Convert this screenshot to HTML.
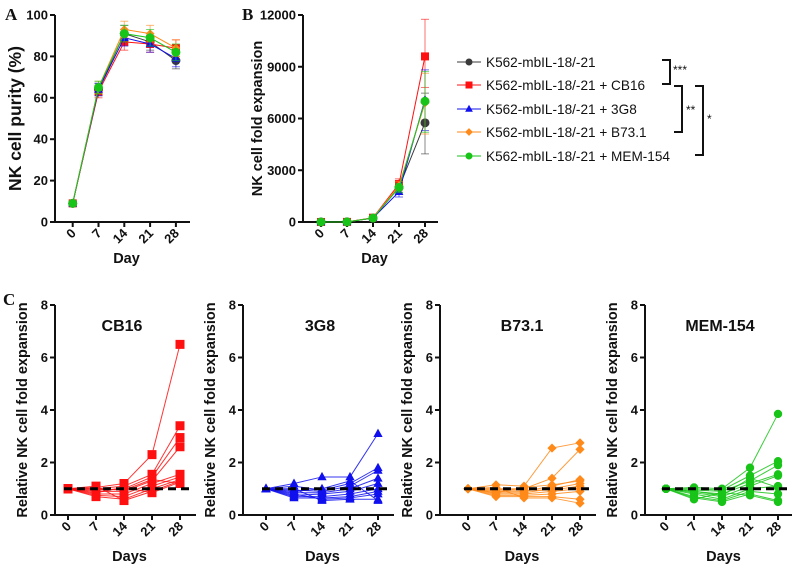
<!DOCTYPE html>
<html><head><meta charset="utf-8">
<style>
html,body{margin:0;padding:0;background:#fff;}
svg{display:block;font-family:"Liberation Sans",Arial,sans-serif;}
.tk{font-weight:bold;font-size:13px;fill:#111;}
.ax{stroke:#111;stroke-width:2;fill:none;}
.lab{font-weight:bold;font-size:14.5px;fill:#111;}
.ttl{font-weight:bold;font-size:16px;fill:#111;}
.pl{font-family:"Liberation Serif",serif;font-weight:bold;font-size:17px;fill:#111;}
.lg{font-size:13.6px;fill:#111;}
</style></head>
<body>
<svg id="fig" width="792" height="569" viewBox="0 0 792 569">
<text class="pl" x="5" y="20">A</text>
<text class="pl" x="242" y="20">B</text>
<text class="pl" x="3" y="305">C</text>
<g id="legend"></g>
</svg>
<script>
// ---- data ----
const days = [0, 7, 14, 21, 28];
const groupNames = ["K562-mbIL-18/-21","K562-mbIL-18/-21 + CB16","K562-mbIL-18/-21 + 3G8","K562-mbIL-18/-21 + B73.1","K562-mbIL-18/-21 + MEM-154"];
const purityCtrl = [9, 64, 91, 87, 78];
const purityCB16 = [9, 63, 87, 86, 84];
const purity3G8  = [9, 64, 89, 86, 79];
const purityB731 = [9, 65, 93, 91, 84];
const purityMEM  = [9, 65, 91, 89, 82];
const purityErr  = [1, 3, 4, 4, 4];
const foldCtrl = [1, 5, 220, 2000, 5750];
const foldCB16 = [1, 5, 250, 2200, 9600];
const fold3G8  = [1, 5, 230, 1750, 7100];
const foldB731 = [1, 5, 240, 2100, 6900];
const foldMEM  = [1, 5, 230, 2000, 7000];
const foldErrHi = [0, 0, 60, 300, 2150];
const foldErrLo = [0, 0, 60, 300, 1800];
const purityTicks = [0, 20, 40, 60, 80, 100];
const foldTicks = [0, 3000, 6000, 9000, 12000];
const relTicks = [0, 2, 4, 6, 8];
// relative fold per donor (days 7,14,21,28; day 0 = 1)
const cb16D7  = [1.05,1.0,0.95,0.9,0.8,0.75,0.7,1.1,0.85,1.0];
const cb16D14 = [1.2,1.1,1.0,0.9,0.8,0.7,0.6,0.55,1.05,0.95];
const cb16D21 = [2.3,1.55,1.45,1.3,1.2,1.1,1.0,0.9,0.85,1.35];
const cb16D28 = [6.5,3.4,2.95,2.6,1.55,1.45,1.35,1.3,1.25,1.2];
const g3D7  = [1.2,1.1,0.95,0.85,0.75,0.7,0.65,0.8,1.0,0.9];
const g3D14 = [1.45,0.95,0.9,0.85,0.8,0.7,0.65,0.6,0.55,1.0];
const g3D21 = [1.45,1.2,1.1,1.0,0.9,0.8,0.7,0.65,0.6,1.3];
const g3D28 = [3.1,1.8,1.7,1.4,1.2,1.0,0.9,0.8,0.6,0.55];
const b7D7  = [1.15,1.0,0.9,0.85,0.8,0.75,0.7,1.05,0.95,0.85];
const b7D14 = [1.1,1.0,0.9,0.85,0.8,0.75,0.7,0.65,0.95,1.05];
const b7D21 = [2.55,1.4,1.1,1.0,0.9,0.8,0.7,0.65,0.95,1.15];
const b7D28 = [2.75,2.5,1.35,1.2,1.0,0.9,0.6,0.45,1.1,1.3];
const memD7  = [1.05,1.0,0.95,0.9,0.85,0.8,0.7,0.65,0.6,0.9];
const memD14 = [1.0,0.95,0.9,0.8,0.7,0.6,0.55,0.5,0.85,0.75];
const memD21 = [1.8,1.5,1.3,1.2,1.1,1.0,0.9,0.8,0.75,1.4];
const memD28 = [3.85,2.05,1.9,1.55,1.5,1.1,0.8,0.55,0.5,1.05];

const NS="http://www.w3.org/2000/svg";
const svg=document.getElementById('fig');
function el(tag,attrs,parent){const e=document.createElementNS(NS,tag);for(const k in attrs)e.setAttribute(k,attrs[k]);(parent||svg).appendChild(e);return e;}
const colors=["#3a3a3a","#ff1010","#1010ee","#ff8a1a","#19c419"];
const shapes=["circle","square","triangle","diamond","circle"];
function marker(g,shape,x,y,s,c){
  let m;
  if(shape==="square")m=el('rect',{x:x-s,y:y-s,width:2*s,height:2*s,fill:c},g);
  else if(shape==="triangle")m=el('polygon',{points:`${x},${y-s*1.2} ${x-s*1.1},${y+s*0.8} ${x+s*1.1},${y+s*0.8}`,fill:c},g);
  else if(shape==="diamond")m=el('polygon',{points:`${x},${y-s*1.1} ${x+s*1.1},${y} ${x},${y+s*1.1} ${x-s*1.1},${y}`,fill:c},g);
  else m=el('circle',{cx:x,cy:y,r:s,fill:c},g);
  
  
  return m;
}
function axes(name,ax,x0,x1,yTop,yBot,ticks,ymax,xs,xlabel,ylabel,ylabX,xlabOff,ylabSize){
  const g=el('g',{});
  
  
  const yS=v=>yBot-(v/ymax)*(yBot-yTop);
  el('line',{x1:ax,y1:yTop,x2:ax,y2:yBot+1,class:'ax'},g);
  el('line',{x1:ax-1,y1:yBot,x2:x1,y2:yBot,class:'ax'},g);
  ticks.forEach(t=>{
    el('line',{x1:ax-5,y1:yS(t),x2:ax,y2:yS(t),class:'ax'},g);
    const tx=el('text',{x:ax-7,y:yS(t)+4.5,'text-anchor':'end',class:'tk'},g);tx.textContent=t;
    
    
  });
  days.forEach((d,i)=>{
    const x=xs(d);
    el('line',{x1:x,y1:yBot,x2:x,y2:yBot+5,class:'ax'},g);
    const tx=el('text',{x:x+4,y:yBot+12,'text-anchor':'end',class:'tk',transform:`rotate(-45 ${x+4} ${yBot+12})`},g);tx.textContent=d;
    
    
  });
  const xl=el('text',{x:(ax+x1)/2+4,y:yBot+xlabOff,'text-anchor':'middle',class:'lab'},g);xl.textContent=xlabel;
  
  
  const yc=(yTop+yBot)/2;
  const yl=el('text',{x:ylabX,y:yc,'text-anchor':'middle',class:'lab',style:'font-size:'+ylabSize+'px',transform:`rotate(-90 ${ylabX} ${yc})`},g);yl.textContent=ylabel;
  
  
  return {g,yS};
}
// Panel A
{
  const xs=d=>72.7+d/7*25.8;
  const {g,yS}=axes('panel-a-purity',55,55,190,15,222,purityTicks,100,xs,'Day','NK cell purity (%)',21,41,17.5);
  const series=[purityCtrl,purityCB16,purity3G8,purityB731,purityMEM];
  series.forEach((s,k)=>{
    const sg=el('g',{},g);
    
    
    s.forEach((v,i)=>{const x=xs(days[i]);el('line',{x1:x,y1:yS(v-purityErr[i]),x2:x,y2:yS(v+purityErr[i]),stroke:colors[k],'stroke-width':1,opacity:0.6},sg);
      el('line',{x1:x-4,y1:yS(v+purityErr[i]),x2:x+4,y2:yS(v+purityErr[i]),stroke:colors[k],'stroke-width':1,opacity:0.6},sg);
      el('line',{x1:x-4,y1:yS(v-purityErr[i]),x2:x+4,y2:yS(v-purityErr[i]),stroke:colors[k],'stroke-width':1,opacity:0.6},sg);});
    el('polyline',{points:s.map((v,i)=>xs(days[i])+','+yS(v)).join(' '),fill:'none',stroke:colors[k],'stroke-width':1},sg);
    s.forEach((v,i)=>marker(sg,shapes[k],xs(days[i]),yS(v),k===0||k===4?4.5:4,colors[k]));
  });
}
// Panel B
{
  const xs=d=>321+d/7*26;
  const {g,yS}=axes('panel-b-fold',303,303,438,15,222,foldTicks,12000,xs,'Day','NK cell fold expansion',262,41,14.5);
  const series=[foldCtrl,foldCB16,fold3G8,foldB731,foldMEM];
  series.forEach((s,k)=>{
    const sg=el('g',{},g);
    
    
    s.forEach((v,i)=>{const x=xs(days[i]);const hi=yS(v+foldErrHi[i]*(k===1?1:0.8)),lo=yS(Math.max(0,v-foldErrLo[i]));
      el('line',{x1:x,y1:hi,x2:x,y2:lo,stroke:colors[k],'stroke-width':1,opacity:0.6},sg);
      el('line',{x1:x-4,y1:hi,x2:x+4,y2:hi,stroke:colors[k],'stroke-width':1,opacity:0.6},sg);
      el('line',{x1:x-4,y1:lo,x2:x+4,y2:lo,stroke:colors[k],'stroke-width':1,opacity:0.6},sg);});
    el('polyline',{points:s.map((v,i)=>xs(days[i])+','+yS(v)).join(' '),fill:'none',stroke:colors[k],'stroke-width':1},sg);
    s.forEach((v,i)=>marker(sg,shapes[k],xs(days[i]),yS(v),k===0||k===4?4.5:4,colors[k]));
  });
}
// Legend
{
  const lg=document.getElementById('legend');
  const rows=[62,85,109,132,156];
  groupNames.forEach((n,k)=>{
    const r=el('g',{},lg);
    
    
    el('line',{x1:457,y1:rows[k],x2:481,y2:rows[k],stroke:colors[k],'stroke-width':1},r);
    marker(r,shapes[k],469,rows[k],3.5,colors[k]);
    const t=el('text',{x:486,y:rows[k]+5,class:'lg'},r);t.textContent=n;
  });
  const br=(x,y1,y2,lx,ly,txt)=>{
    const b=el('g',{},lg);
    
    
    el('polyline',{points:`${x-8},${y1} ${x},${y1} ${x},${y2} ${x-8},${y2}`,fill:'none',stroke:'#111','stroke-width':2},b);
    const t=el('text',{x:lx,y:ly,'font-size':'12px',fill:'#111'},b);t.textContent=txt;
  };
  br(670,60,84,673,74,'***');
  br(682,86,132,686,114,'**');
  br(703,86,155,707,123,'*');
}
// Panel C
const relSets=[
  {name:'CB16',k:1,ax:55,x0:68,d:[cb16D7,cb16D14,cb16D21,cb16D28]},
  {name:'3G8',k:2,ax:243,x0:266,d:[g3D7,g3D14,g3D21,g3D28]},
  {name:'B73.1',k:3,ax:440,x0:468,d:[b7D7,b7D14,b7D21,b7D28]},
  {name:'MEM-154',k:4,ax:645,x0:666,d:[memD7,memD14,memD21,memD28]}
];
relSets.forEach(p=>{
  const xs=d=>p.x0+d/7*28;
  const {g,yS}=axes('panel-c-'+p.name.toLowerCase(),p.ax,p.ax,p.x0+128,305,515,relTicks,8,xs,'Days','Relative NK cell fold expansion',p.ax-28,46,14.5);
  const t=el('text',{x:p.x0+54,y:331,'text-anchor':'middle',class:'ttl'},g);t.textContent=p.name;
  
  
  const c=colors[p.k];
  const n=p.d[0].length;
  for(let j=0;j<n;j++){
    const vals=[1,p.d[0][j],p.d[1][j],p.d[2][j],p.d[3][j]];
    const ln=el('polyline',{points:vals.map((v,i)=>xs(days[i])+','+yS(v)).join(' '),fill:'none',stroke:c,'stroke-width':1,opacity:0.85},g);
    
    
    vals.forEach((v,i)=>marker(g,shapes[p.k],xs(days[i]),yS(v),p.k===1?4.5:4.2,c));
  }
  const dl=el('line',{x1:p.x0-4,y1:yS(1),x2:p.x0+124,y2:yS(1),stroke:'#000','stroke-width':3,'stroke-dasharray':'8,5'},g);
  
  
});
</script>
</body></html>
